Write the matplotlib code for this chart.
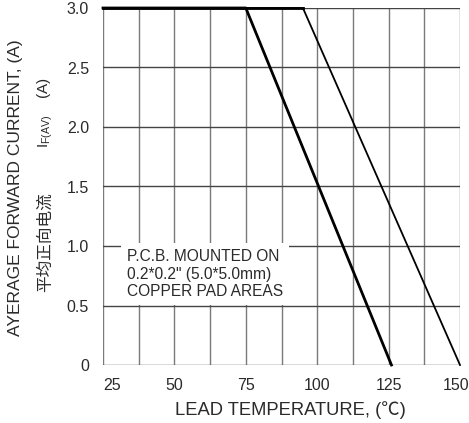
import matplotlib
matplotlib.use("Agg")
import matplotlib.pyplot as plt
from matplotlib.transforms import offset_copy

plt.rcParams["font.family"] = ["Liberation Sans", "Noto Sans CJK SC", "DejaVu Sans"]

# derating curves (lead temperature in degC, current in A)
temp_a = [25, 75, 126]
curr_a = [3.0, 3.0, 0.0]
temp_b = [25, 95, 150]
curr_b = [3.0, 3.0, 0.0]

xticks = [25, 50, 75, 100, 125, 150]
yticks = [0, 0.5, 1.0, 1.5, 2.0, 2.5, 3.0]
ytick_labels = ["0", "0.5", "1.0", "1.5", "2.0", "2.5", "3.0"]

txt = "#2a2a2a"

fig = plt.figure(figsize=(4.69, 4.23), dpi=100)
ax = fig.add_axes([103 / 469, 1 - 365 / 423, 357 / 469, 357 / 423])

ax.set_xlim(25, 150)
ax.set_ylim(0, 3.0)

# grid every 12.5 degC and 0.5 A
for x in [25 + 12.5 * i for i in range(11)]:
    ax.axvline(x, color="#7a7a7a", lw=1.0, zorder=1)
for y in yticks:
    ax.axhline(y, color="#444444", lw=1.0, zorder=1)

ax.plot(temp_b, curr_b, color="black", lw=1.3, zorder=3, clip_on=False)
ax.plot(temp_a, curr_a, color="black", lw=2.0, zorder=3, clip_on=False)
# flat rated part drawn heavy, as on the datasheet
ax.plot(temp_b[:2], curr_b[:2], color="black", lw=2.0, zorder=3, clip_on=False)

for s in ax.spines.values():
    s.set_visible(False)

ax.set_xticks(xticks)
ax.set_yticks(yticks)
ax.set_yticklabels(ytick_labels)
ax.tick_params(length=0, labelsize=11.5, colors=txt, pad=10)
ax.tick_params(axis="x", pad=9)

xl = ax.get_xticklabels()
xl[0].set_horizontalalignment("left")
xl[-1].set_transform(offset_copy(xl[-1].get_transform(), fig=fig, x=-4, units="dots"))

ax.text(33.4, 0.975, "P.C.B. MOUNTED ON\n0.2*0.2\" (5.0*5.0mm)\nCOPPER PAD AREAS",
        fontsize=11.2, color=txt, va="top", ha="left", linespacing=1.22,
        zorder=4,
        bbox=dict(facecolor="white", edgecolor="none", pad=4))

fig.text(290 / 469, 1 - 410 / 423, "LEAD TEMPERATURE, (\u2103)",
         fontsize=13.2, ha="center", va="center", color=txt)
fig.text(16 / 469, 1 - 188 / 423, "AYERAGE FORWARD CURRENT, (A)",
         fontsize=12.5, rotation=90, ha="center", va="center", color=txt)
fig.text(45 / 469, 1 - 242 / 423, "平均正向电流",
         fontsize=12, rotation=90, ha="center", va="center", color=txt)
fig.text(45 / 469, 1 - 112 / 423, r"I$_{\mathregular{F(AV)}}$    (A)",
         fontsize=11, rotation=90, ha="center", va="center", color=txt)

fig.savefig("out.png", dpi=100)
